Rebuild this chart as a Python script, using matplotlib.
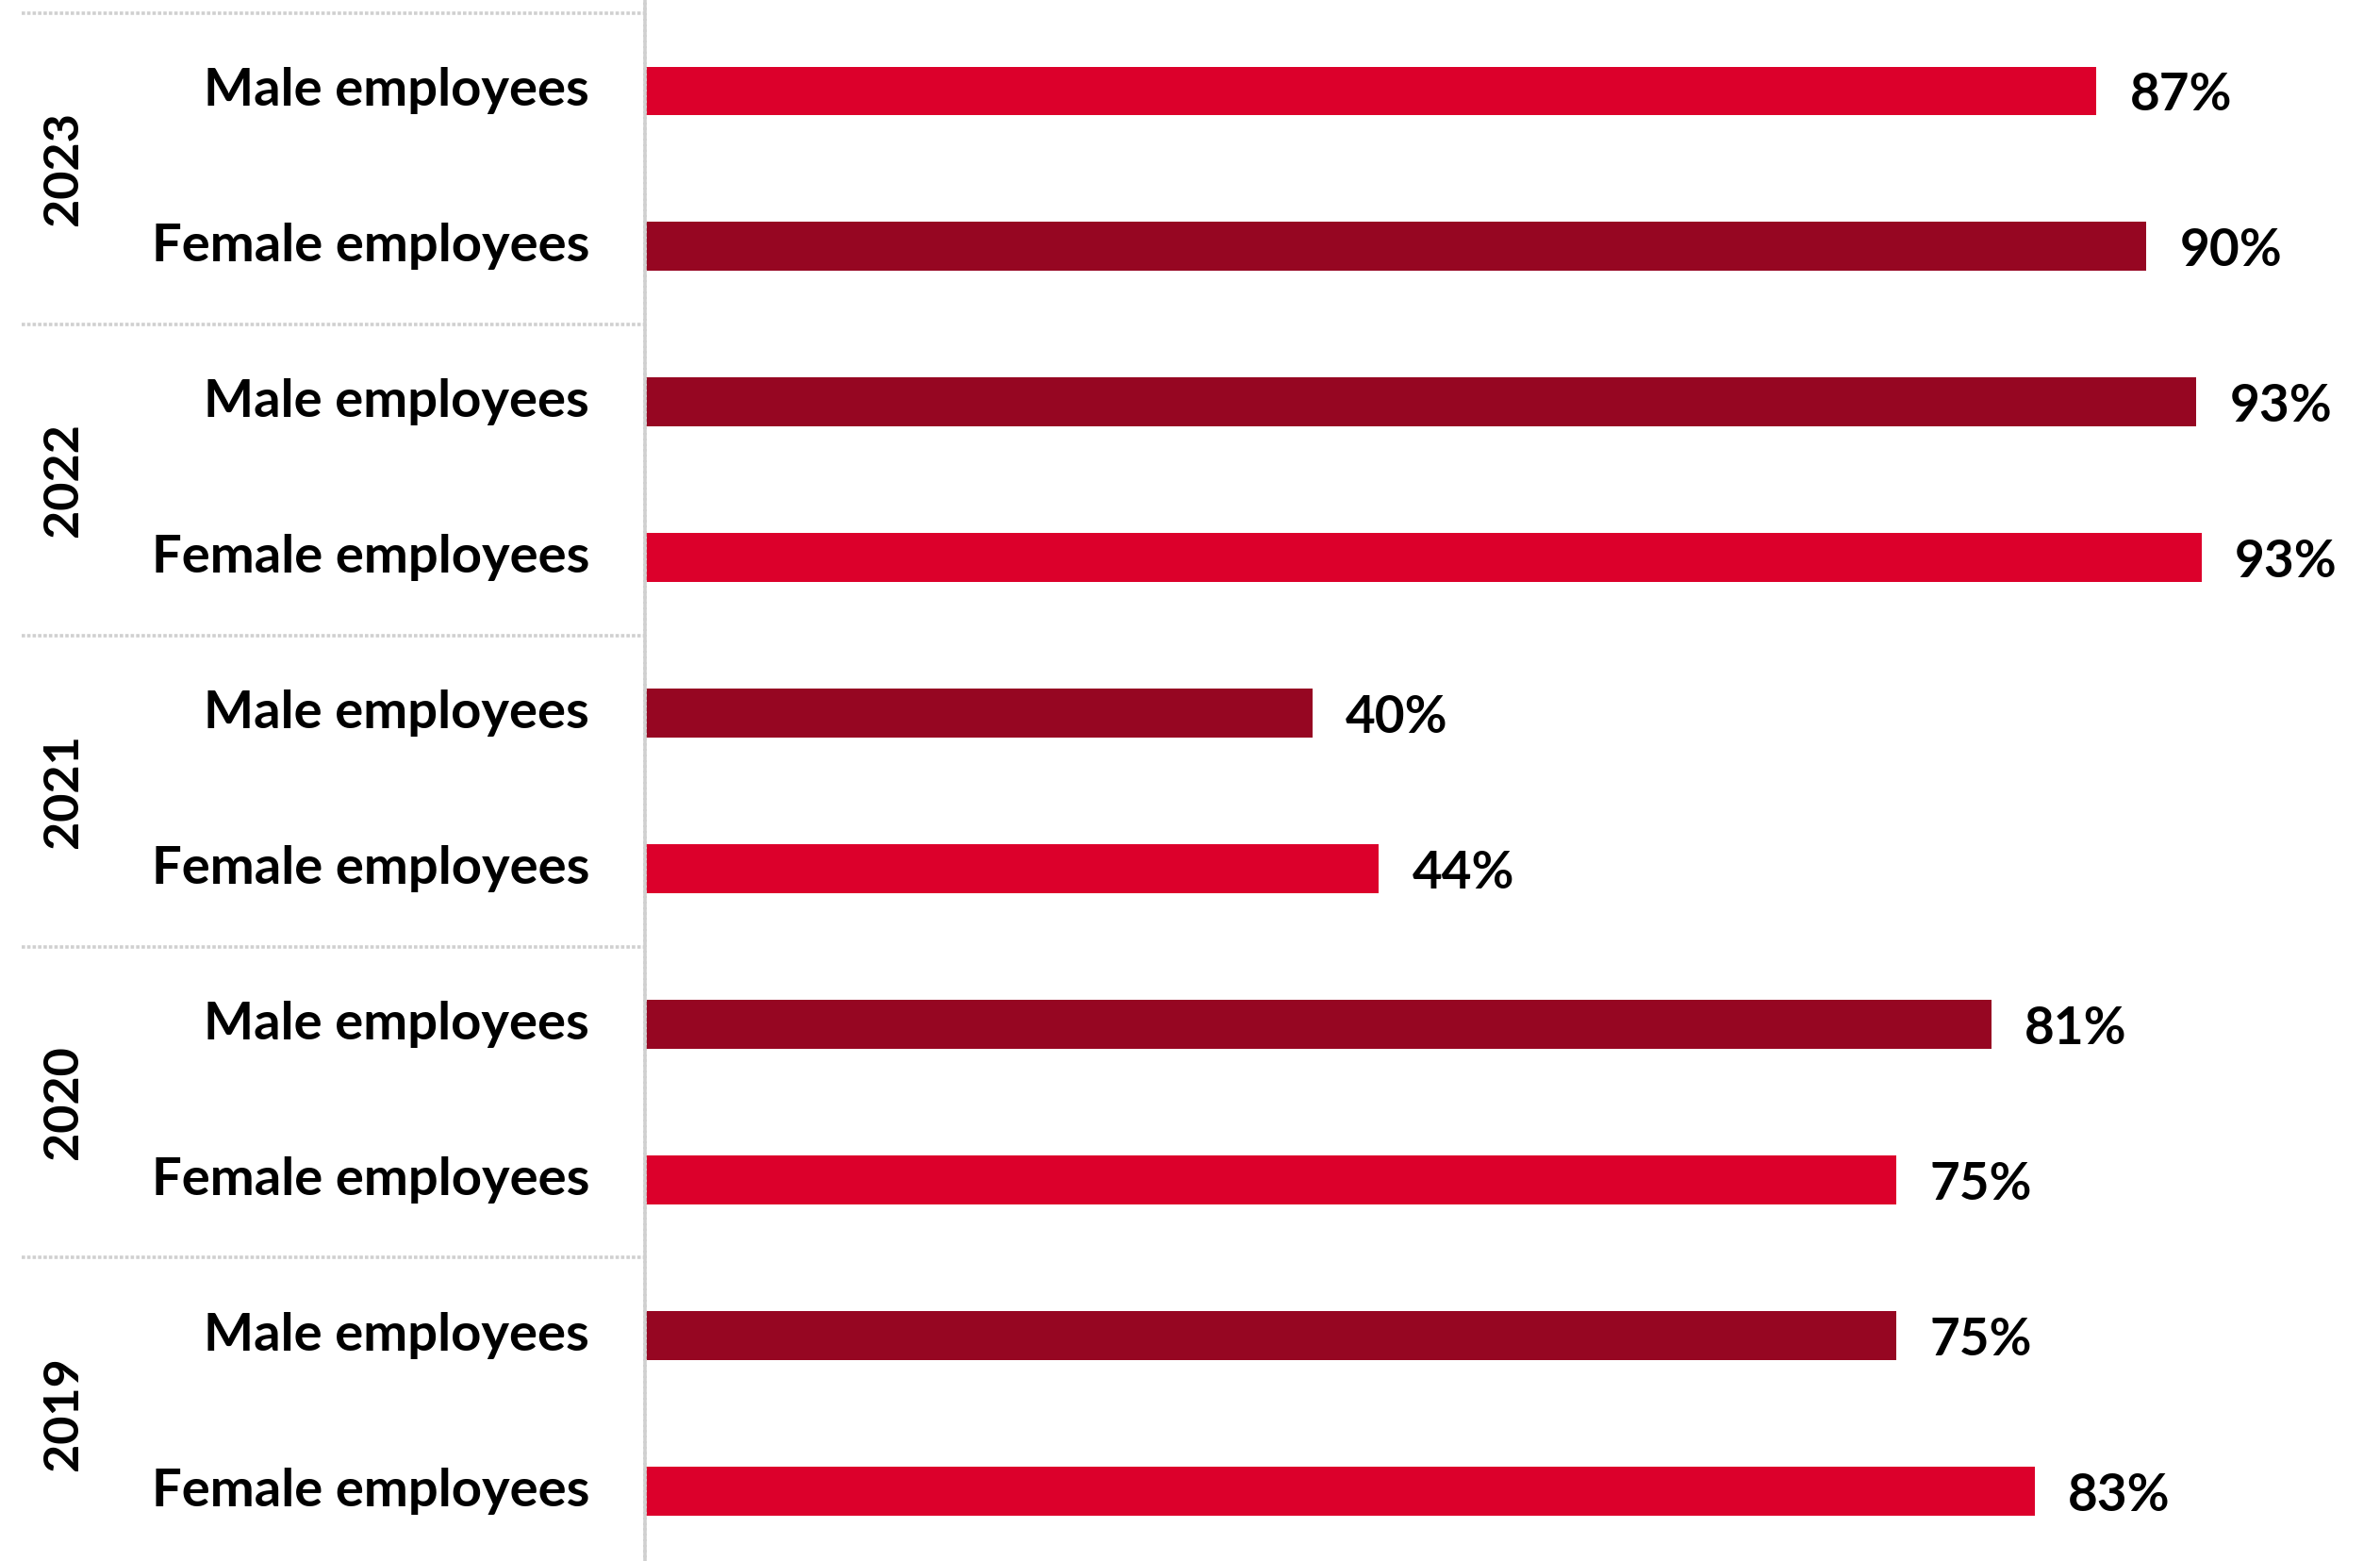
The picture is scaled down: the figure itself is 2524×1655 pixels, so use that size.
import matplotlib

matplotlib.use("Agg")
import matplotlib.pyplot as plt
from matplotlib.transforms import blended_transform_factory

# data, top to bottom
years = ["2023", "2022", "2021", "2020", "2019"]
groups = ["Male employees", "Female employees"]
values = [87.0, 90.0, 93.0, 93.3, 40.0, 44.0, 80.7, 75.0, 75.0, 83.3]

BRIGHT = "#DC002B"
DARK = "#960622"
bar_colors = [BRIGHT, DARK, DARK, BRIGHT, DARK, BRIGHT, DARK, BRIGHT, DARK, BRIGHT]
LINE = "#D0D0D0"

plt.rcParams["font.family"] = ["Lato", "DejaVu Sans"]

W, H = 2524, 1655
fig = plt.figure(figsize=(W / 100, H / 100), dpi=100)
ax = fig.add_axes([684 / W, 0, 1 - 684 / W, 1])

labels = [g for _ in years for g in groups]
y = list(range(len(values)))
ax.barh(y, values, height=0.315, color=bar_colors, zorder=2)

for yi, v in zip(y, values):
    ax.text(v + 2.0, yi + 0.03, f"{round(v)}%", ha="left", va="center",
            fontsize=39.5, fontweight="bold", color="black")

ax.set_xlim(0, 104)
ax.set_ylim(9.45, -0.585)
ax.set_xticks([])
ax.set_yticks([])
for side in ("top", "right", "bottom"):
    ax.spines[side].set_visible(False)
ax.spines["left"].set_color(LINE)
ax.spines["left"].set_linewidth(2.6)
ax.spines["left"].set_linestyle((0, (1, 0.6)))

trans = blended_transform_factory(fig.transFigure, ax.transData)

# category labels
for yi, lab in zip(y, labels):
    ax.text(625 / W, yi, lab, transform=trans, ha="right", va="center",
            fontsize=40.5, fontweight="bold", color="black", clip_on=False)

# year labels + separators
for k, yr in enumerate(years):
    ax.text(68 / W, 2 * k + 0.5, yr, transform=trans, ha="center", va="center",
            rotation=90, fontsize=37.5, fontweight="bold", color="black",
            clip_on=False)
    yb = 2 * k - 0.5
    ax.plot([23 / W, 683 / W], [yb, yb], transform=trans, color=LINE,
            lw=2.6, ls=(0, (1, 0.6)), clip_on=False)

fig.savefig("out.png", dpi=100)
